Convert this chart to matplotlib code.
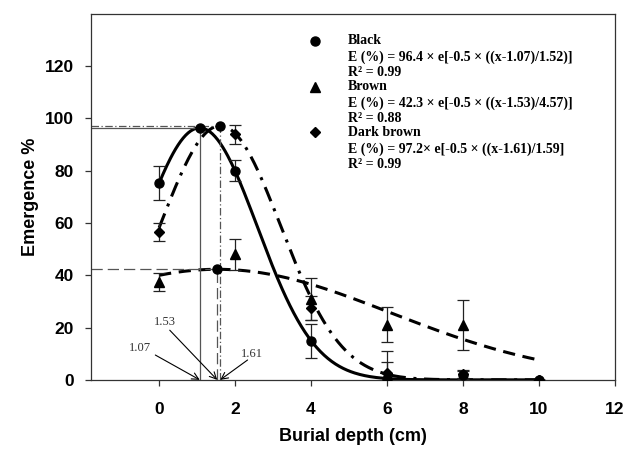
import numpy as np
import matplotlib
matplotlib.use("Agg")
import matplotlib.pyplot as plt

# measured emergence (%) at each burial depth, with error bars
DEPTH = [0, 2, 4, 6, 8, 10]
BLACK = [75.5, 80, 15, 0.5, 2, 0]
BLACK_ERR = [6.5, 4, 6.5, 6.5, 1.5, 0]
BROWN = [37.5, 48, 31, 21, 21, 0]
BROWN_ERR = [3.5, 6, 8, 6.7, 9.5, 0]
DARK = [56.5, 94, 27.5, 2.5, 2.3, 0]
DARK_ERR = [3.5, 3.6, 4.5, 8.5, 1.5, 0]

# fitted gaussian parameters (a, x0, b)
FIT_BLACK = (96.4, 1.07, 1.52)
FIT_BROWN = (42.3, 1.53, 4.57)
FIT_DARK = (97.2, 1.61, 1.59)

XMIN, XMAX = -1.8, 12
YMIN, YMAX = 0, 140

SERIF = ['Liberation Serif', 'DejaVu Serif']
SANS = ['Liberation Sans', 'DejaVu Sans']


def gauss(x, a, x0, b):
    return a * np.exp(-0.5 * ((x - x0) / b) ** 2)


fig = plt.figure(figsize=(6.26, 4.49), dpi=100)
ax = fig.add_axes([0.145, 0.154, 0.837, 0.815])

xs = np.linspace(0, 10, 300)
ax.plot(xs, gauss(xs, *FIT_BLACK), c='k', lw=2.2, ls='-')
ax.plot(xs, gauss(xs, *FIT_BROWN), c='k', lw=2.2, ls=(0, (4, 2.5)))
ax.plot(xs, gauss(xs, *FIT_DARK), c='k', lw=2.2, ls=(0, (5, 2.5, 1, 2.5)))

ekw = dict(ecolor='#222222', elinewidth=0.9, capsize=4, capthick=0.9,
           ls='none', c='k', ms=6.5, zorder=3)
ax.errorbar(DEPTH, BLACK, yerr=BLACK_ERR, marker='o', **ekw)
ax.errorbar(DEPTH, BROWN, yerr=BROWN_ERR, marker='^', **ekw)
ax.errorbar(DEPTH, DARK, yerr=DARK_ERR, marker='D', **{**ekw, 'ms': 5.5})

# peak guide lines
ref = '#555555'
for (a, x0, b), ls in [(FIT_BLACK, '-'), (FIT_BROWN, (0, (9, 4))),
                       (FIT_DARK, (0, (6, 2, 1, 2)))]:
    ax.plot([XMIN, x0], [a, a], c=ref, lw=0.9, ls=ls)
    ax.plot([x0, x0], [0, a], c=ref, lw=0.9, ls=ls)
    ax.plot([x0], [a], marker='o', c='k', ms=6.5, zorder=4)

# arrow labels on the x axis
for label, x0, tx, ty, sx, sy in [('1.07', 1.07, -0.5, 12.2, -0.1, 9.5),
                                  ('1.53', 1.53, 0.15, 22, 0.28, 19),
                                  ('1.61', 1.61, 2.45, 10, 2.33, 7.6)]:
    ax.annotate('', xy=(x0, 0), xytext=(sx, sy),
                arrowprops=dict(arrowstyle='->', color='k', lw=0.8,
                                shrinkA=0, shrinkB=0, mutation_scale=12))
    ax.text(tx, ty, label, family=SERIF, fontsize=9, color='#333333',
            ha='center', va='center')

# legend block with equations
mx, tx = 4.11, 4.98
rows = [('o', 'Black', '96.4 × e[-0.5 × ((x-1.07)/1.52)]', '0.99', 129.8),
        ('^', 'Brown', '42.3 × e[-0.5 × ((x-1.53)/4.57)]', '0.88', 112.2),
        ('D', 'Dark brown', '97.2× e[-0.5 × ((x-1.61)/1.59]', '0.99', 94.7)]
tk = dict(family=SERIF, fontsize=10, fontweight='bold', va='center')
for m, name, eq, r2, y in rows:
    ax.plot([mx], [y], marker=m, c='k', ms=6.5 if m != 'D' else 5.5)
    ax.text(tx, y, name, **tk)
    ax.text(tx, y - 6.5, 'E (%) = ' + eq, **tk)
    ax.text(tx, y - 12.2, 'R² = ' + r2, **tk)

ax.set_xlim(XMIN, XMAX)
ax.set_ylim(YMIN, YMAX)
ax.set_xticks(range(0, 13, 2))
ax.set_yticks(range(0, 121, 20))
for s in ax.spines.values():
    s.set_linewidth(0.9)
    s.set_color('#333333')
ax.tick_params(direction='out', length=4, width=0.9, color='#333333',
               labelsize=12.5)
ax.tick_params(axis='x', pad=12)
ax.tick_params(axis='y', pad=8)
for t in ax.get_xticklabels() + ax.get_yticklabels():
    t.set_family(SANS)
    t.set_fontweight('bold')
ax.set_xlabel('Burial depth (cm)', family=SANS, fontsize=13,
              fontweight='bold', labelpad=8)
ax.set_ylabel('Emergence %', family=SANS, fontsize=13,
              fontweight='bold', labelpad=4)

fig.savefig('out.png', dpi=100)
